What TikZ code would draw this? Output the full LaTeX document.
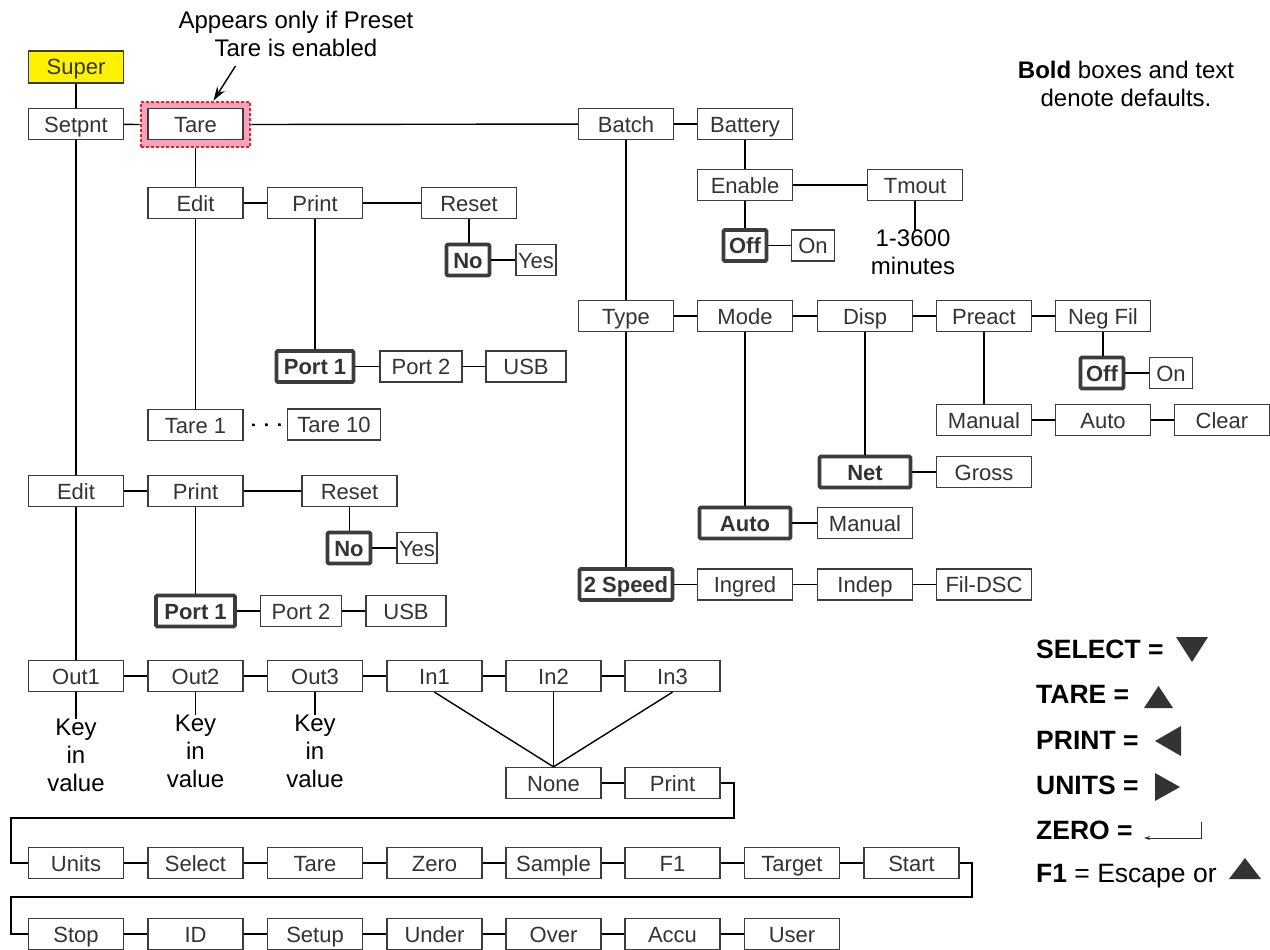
\documentclass[tikz,border=0pt]{standalone}
\usepackage{fontspec}
\setmainfont{Liberation Sans}
\usetikzlibrary{arrows.meta,calc}
\definecolor{boxgray}{HTML}{3C3C3C}
\definecolor{txtgray}{HTML}{333333}
\definecolor{hlpink}{HTML}{F4A3BA}
\definecolor{hlred}{HTML}{E8202E}
\definecolor{superyellow}{HTML}{FFF200}
\begin{document}
\begin{tikzpicture}[x=1pt,y=-1pt,
  box/.style={draw=boxgray, line width=1.3pt, fill=white, minimum width=95pt,
    minimum height=31pt, inner sep=0pt, text=txtgray, text height=19pt, text depth=3pt,
    font=\fontsize{22}{25}\selectfont},
  dbox/.style={box, line width=3.6pt, minimum height=31pt, rounded corners=1.2pt,
    font=\fontsize{22}{25}\selectfont\bfseries},
  conn/.style={draw=black, line width=1.4pt},
  note/.style={align=center, text=black, font=\fontsize{24}{28}\selectfont, inner sep=0pt},
  legend/.style={anchor=west, text=black, inner sep=0pt, font=\fontsize{26.5}{30}\selectfont}
]
\useasboundingbox (0,0) rectangle (1270,950);

% annotation
\node[note] (appears) at (296,34) {Appears only if Preset\\Tare is enabled};
\node[note] (bold) at (1126,84) {\textbf{Bold} boxes and text\\denote defaults.};

% highlight
\node[draw=hlred, fill=hlpink, line width=2.8pt, dash pattern=on 2.8pt off 2.2pt,
  minimum width=109pt, minimum height=45pt, inner sep=0pt] (tarehl) at (195.5,124.5) {};
\coordinate (arrstart) at (235.5,66);
\draw[line width=1.4pt, -{Stealth[length=14pt,width=9pt]}] (arrstart) -- ($(tarehl.north)+(18,0)$);

% top row
\node[box, fill=superyellow, minimum height=32pt] (super) at (76,67) {Super};
\node[box] (setpnt) at (76,124) {Setpnt};
\node[box] (tare) at (195.5,124) {Tare};
\node[box] (batch) at (626,124) {Batch};
\node[box] (battery) at (745,124) {Battery};

% battery branch
\node[box] (enable) at (745,185) {Enable};
\node[box] (tmout) at (915,185) {Tmout};
\node[dbox, minimum width=43pt] (off1) at (745,245.5) {Off};
\node[box, minimum width=43pt] (on1) at (813,245.5) {On};
\node[note, anchor=north] (mins) at (913,230) {1-3600\\minutes};

% tare branch
\node[box] (edit1) at (195.5,203) {Edit};
\node[box] (print1) at (315,203) {Print};
\node[box] (reset1) at (469,203) {Reset};
\node[dbox, minimum width=43pt] (no1) at (468,260) {No};
\node[box, minimum width=40pt] (yes1) at (536,260) {Yes};
\node[dbox, minimum width=77pt] (port1a) at (315,366.5) {Port 1};
\node[box, minimum width=82pt] (port2a) at (421,366.5) {Port 2};
\node[box, minimum width=80pt] (usba) at (526,366.5) {USB};
\node[box] (tare1) at (195.5,425) {Tare 1};
\node[box, minimum width=93pt] (tare10) at (334,424.5) {Tare 10};

% batch branch
\node[box] (type) at (626,316) {Type};
\node[box] (mode) at (745,316) {Mode};
\node[box] (disp) at (865,316) {Disp};
\node[box] (preact) at (984,316) {Preact};
\node[box] (negfil) at (1103,316) {Neg Fil};
\node[dbox, minimum width=43pt] (off2) at (1102,373) {Off};
\node[box, minimum width=43pt] (on2) at (1171,373) {On};
\node[box] (manual1) at (984,420) {Manual};
\node[box] (auto1) at (1103,420) {Auto};
\node[box] (clear) at (1222,420) {Clear};
\node[dbox, minimum width=91pt] (net) at (865,472) {Net};
\node[box] (gross) at (984,472) {Gross};
\node[dbox, minimum width=91pt] (autod) at (745,523) {Auto};
\node[box] (manual2) at (865,523) {Manual};
\node[dbox, minimum width=93pt] (speed) at (626,584.5) {2 Speed};
\node[box] (ingred) at (745,584.5) {Ingred};
\node[box] (indep) at (865,584.5) {Indep};
\node[box] (fildsc) at (984,584.5) {Fil-DSC};

% setpnt second branch
\node[box] (edit2) at (76,491) {Edit};
\node[box] (print2) at (195.5,491) {Print};
\node[box] (reset2) at (349.5,491) {Reset};
\node[dbox, minimum width=43pt] (no2) at (349,548) {No};
\node[box, minimum width=40pt] (yes2) at (417,548) {Yes};
\node[dbox, minimum width=79pt] (port1b) at (195.5,611) {Port 1};
\node[box, minimum width=81pt] (port2b) at (301,611) {Port 2};
\node[box, minimum width=80pt] (usbb) at (406,611) {USB};

% outputs / inputs
\node[box] (out1) at (76,676) {Out1};
\node[box] (out2) at (195.5,676) {Out2};
\node[box] (out3) at (315,676) {Out3};
\node[box] (in1) at (434.5,676) {In1};
\node[box] (in2) at (553.5,676) {In2};
\node[box] (in3) at (672.5,676) {In3};
\node[note, anchor=north] (key1) at (76,719) {Key\\in\\value};
\node[note, anchor=north] (key2) at (195.5,715) {Key\\in\\value};
\node[note, anchor=north] (key3) at (315,715) {Key\\in\\value};
\node[box] (none) at (553.5,783) {None};
\node[box] (print3) at (672.5,783) {Print};

% row units
\node[box] (units) at (76,863) {Units};
\node[box] (select) at (195.5,863) {Select};
\node[box] (tare3) at (315,863) {Tare};
\node[box] (zero) at (434.5,863) {Zero};
\node[box] (sample) at (553.5,863) {Sample};
\node[box] (f1) at (672.5,863) {F1};
\node[box] (target) at (792,863) {Target};
\node[box] (start) at (911.5,863) {Start};

% row stop
\node[box] (stop) at (76,934) {Stop};
\node[box] (id) at (195.5,934) {ID};
\node[box] (setup) at (315,934) {Setup};
\node[box] (under) at (434.5,934) {Under};
\node[box] (over) at (553.5,934) {Over};
\node[box] (accu) at (672.5,934) {Accu};
\node[box] (user) at (792,934) {User};

% connectors
\draw[conn] (super) -- (setpnt);
\draw[conn] (setpnt) -- (tarehl.west);
\draw[conn] (tarehl.east) -- (batch);
\draw[conn] (batch) -- (battery);
\draw[conn] (battery) -- (enable);
\draw[conn] (enable) -- (tmout);
\draw[conn] (enable) -- (off1);
\draw[conn] (off1) -- (on1);
\draw[conn] (tmout.south) -- (tmout.south |- mins.north);

\draw[conn] (tarehl.south -| tare.south) -- (edit1);
\draw[conn] (edit1) -- (print1);
\draw[conn] (print1) -- (reset1);
\draw[conn] (reset1.south) -- (reset1.south |- no1.north);
\draw[conn] (no1) -- (yes1);
\draw[conn] (print1) -- (port1a);
\draw[conn] (port1a) -- (port2a);
\draw[conn] (port2a) -- (usba);
\draw[conn] (edit1) -- (tare1);
\draw[line width=2.6pt, dash pattern=on 2.6pt off 10.4pt, dash phase=4.5pt] (tare1.east) -- (tare10.west);

\draw[conn] (batch) -- (type);
\draw[conn] (type) -- (mode);
\draw[conn] (mode) -- (disp);
\draw[conn] (disp) -- (preact);
\draw[conn] (preact) -- (negfil);
\draw[conn] (negfil.south) -- (negfil.south |- off2.north);
\draw[conn] (off2) -- (on2);
\draw[conn] (preact) -- (manual1);
\draw[conn] (manual1) -- (auto1);
\draw[conn] (auto1) -- (clear);
\draw[conn] (disp) -- (net);
\draw[conn] (net) -- (gross);
\draw[conn] (mode) -- (autod);
\draw[conn] (autod) -- (manual2);
\draw[conn] (type) -- (speed);
\draw[conn] (speed) -- (ingred);
\draw[conn] (ingred) -- (indep);
\draw[conn] (indep) -- (fildsc);

\draw[conn] (setpnt) -- (edit2);
\draw[conn] (edit2) -- (print2);
\draw[conn] (print2) -- (reset2);
\draw[conn] (reset2.south) -- (reset2.south |- no2.north);
\draw[conn] (no2) -- (yes2);
\draw[conn] (print2) -- (port1b);
\draw[conn] (port1b) -- (port2b);
\draw[conn] (port2b) -- (usbb);
\draw[conn] (edit2) -- (out1);

\draw[conn] (out1) -- (out2);
\draw[conn] (out2) -- (out3);
\draw[conn] (out3) -- (in1);
\draw[conn] (in1) -- (in2);
\draw[conn] (in2) -- (in3);
\draw[conn] (out1.south) -- (out1.south |- key1.north);
\draw[conn] (out2.south) -- (out2.south |- key2.north);
\draw[conn] (out3.south) -- (out3.south |- key3.north);
\draw[conn] (in1.south) -- (none.north);
\draw[conn] (in2.south) -- (none.north);
\draw[conn] (in3.south) -- (none.north);
\draw[conn] (none) -- (print3);

\coordinate (b1) at (734,818);
\coordinate (b2) at (11,818);
\draw[conn] (print3.east) -| (b1) -- (b2) |- (units.west);
\draw[conn] (units) -- (select);
\draw[conn] (select) -- (tare3);
\draw[conn] (tare3) -- (zero);
\draw[conn] (zero) -- (sample);
\draw[conn] (sample) -- (f1);
\draw[conn] (f1) -- (target);
\draw[conn] (target) -- (start);
\coordinate (b3) at (972,897);
\coordinate (b4) at (11,897);
\draw[conn] (start.east) -| (b3) -- (b4) |- (stop.west);
\draw[conn] (stop) -- (id);
\draw[conn] (id) -- (setup);
\draw[conn] (setup) -- (under);
\draw[conn] (under) -- (over);
\draw[conn] (over) -- (accu);
\draw[conn] (accu) -- (user);

% legend
\node[legend] (lsel) at (1036,649) {\textbf{SELECT =}};
\node[legend] (ltare) at (1036,694) {\textbf{TARE =}};
\node[legend] (lprint) at (1036,740) {\textbf{PRINT =}};
\node[legend] (lunits) at (1036,785) {\textbf{UNITS =}};
\node[legend] (lzero) at (1036,830) {\textbf{ZERO =}};
\node[legend] (lf1) at (1036,876) {\textbf{F1} = Escape or};
\fill[txtgray] (1176,637) -- (1208,637) -- (1192,662) -- cycle;
\fill[txtgray] (1144,708) -- (1173,708) -- (1158.5,686) -- cycle;
\fill[txtgray] (1181,726) -- (1181,756) -- (1155,741) -- cycle;
\fill[txtgray] (1155,773) -- (1155,801) -- (1180,787) -- cycle;
\draw[txtgray, line width=1pt, -{Stealth[length=6pt,width=4pt]}] (1201,822) -- (1201,838) -- (1144,838);
\fill[txtgray] (1229,879) -- (1261,879) -- (1245,858) -- cycle;
\end{tikzpicture}
\end{document}
